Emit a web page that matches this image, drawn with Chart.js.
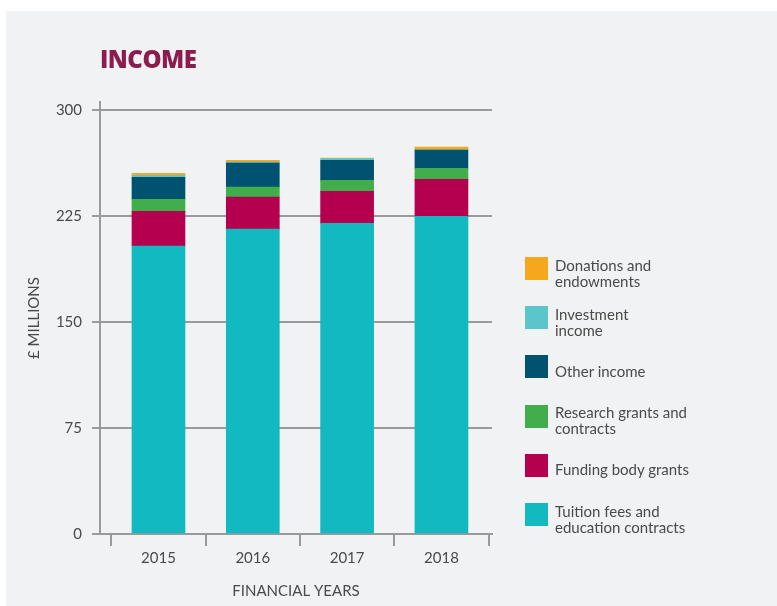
<!DOCTYPE html>
<html>
<head>
<meta charset="utf-8">
<script src="https://cdn.jsdelivr.net/npm/chart.js@4.4.1/dist/chart.umd.min.js"></script>
<style>
  html, body { margin:0; padding:0; background:#ffffff; }
  #panel { position:absolute; left:6px; top:11px; width:771px; height:595px; background:#f1f2f4; }
  #wrap { position:absolute; left:0; top:0; width:777px; height:606px; }
  #title { position:absolute; left:100px; top:47px; font-family:"Open Sans", sans-serif; font-weight:800; font-size:24px; line-height:24px; color:#8c1c4e; letter-spacing:-0.5px; }
  .li { position:absolute; left:525px; width:240px; height:23px; }
  .li .box { position:absolute; left:0; top:0; width:23px; height:23px; }
  .li .txt { position:absolute; left:30px; top:50%; transform:translateY(-50%); margin-top:4px; font-family:Lato, sans-serif; font-size:15px; line-height:16px; color:#4a4a4a; white-space:nowrap; }
</style>
</head>
<body>
<div id="panel"></div>
<div id="wrap"><canvas id="c" width="777" height="606"></canvas></div>
<div id="title">INCOME</div>
<div id="legend"></div>
<script>
const years = ['2015', '2016', '2017', '2018'];
const tuition    = [204, 216, 220, 225];
const funding    = [24.5, 22.7, 22.7, 26.2];
const research   = [8.5, 7.0, 7.8, 7.8];
const other      = [15.6, 17.0, 14.1, 12.9];
const investment = [1.4, 0.8, 1.4, 0.2];
const donations  = [1.4, 1.1, 0.2, 1.9];
const yTicks = [0, 75, 150, 225, 300];

const seriesNames = ['Tuition fees and\neducation contracts', 'Funding body grants', 'Research grants and\ncontracts', 'Other income', 'Investment\nincome', 'Donations and\nendowments'];
const seriesData = [tuition, funding, research, other, investment, donations];
const seriesColors = ['#12b9c1', '#b5004f', '#42ae4b', '#005370', '#5bc5cb', '#f6a81c'];

const GREY = '#9a9a9a';
const TXT = '#4a4a4a';
const FONT = { family: 'Lato, sans-serif', size: 15 };

const datasets = seriesData.map((d, i) => ({
  label: seriesNames[i].replace('\n', ' '),
  data: d,
  backgroundColor: seriesColors[i],
  borderWidth: 0,
  barThickness: 53
}));

new Chart(document.getElementById('c'), {
  type: 'bar',
  data: { labels: years, datasets },
  options: {
    responsive: false,
    animation: false,
    layout: { padding: { left: 20, right: 285, top: 102, bottom: 4 } },
    plugins: { legend: { display: false }, tooltip: { enabled: false }, title: { display: false } },
    scales: {
      x: {
        stacked: true,
        afterBuildTicks: s => { s._startValue = -0.62; s._valueRange = 4.156; },
        afterFit: s => { s.height = 68; },
        grid: { display: true, drawOnChartArea: false, drawTicks: true, tickLength: 12, color: GREY, lineWidth: 2, offset: true },
        border: { display: true, color: GREY, width: 2 },
        ticks: { color: TXT, font: FONT, padding: 3 },
        title: { display: true, text: 'FINANCIAL YEARS', color: TXT, font: FONT, padding: { top: 0, bottom: 2 } }
      },
      y: {
        stacked: true,
        min: 0,
        max: 306,
        afterBuildTicks: s => { s.ticks = yTicks.map(v => ({ value: v })); },
        afterFit: s => { s.width = 80; },
        grid: { color: GREY, lineWidth: 2, tickLength: 8, drawTicks: true },
        border: { display: true, color: GREY, width: 2 },
        ticks: { color: TXT, font: FONT, padding: 10 },
        title: { display: true, text: '£ MILLIONS', color: TXT, font: FONT, padding: { top: 5, bottom: 0 } }
      }
    }
  }
});

// HTML legend (top to bottom = reverse stacking order)
const legend = document.getElementById('legend');
const order = [5, 4, 3, 2, 1, 0];
order.forEach((si, k) => {
  const item = document.createElement('div');
  item.className = 'li';
  item.style.top = (257 + k * 49.2) + 'px';
  const box = document.createElement('div');
  box.className = 'box';
  box.style.background = seriesColors[si];
  const txt = document.createElement('div');
  txt.className = 'txt';
  txt.innerHTML = seriesNames[si].split('\n').join('<br>');
  item.appendChild(box);
  item.appendChild(txt);
  legend.appendChild(item);
});
</script>
</body>
</html>
